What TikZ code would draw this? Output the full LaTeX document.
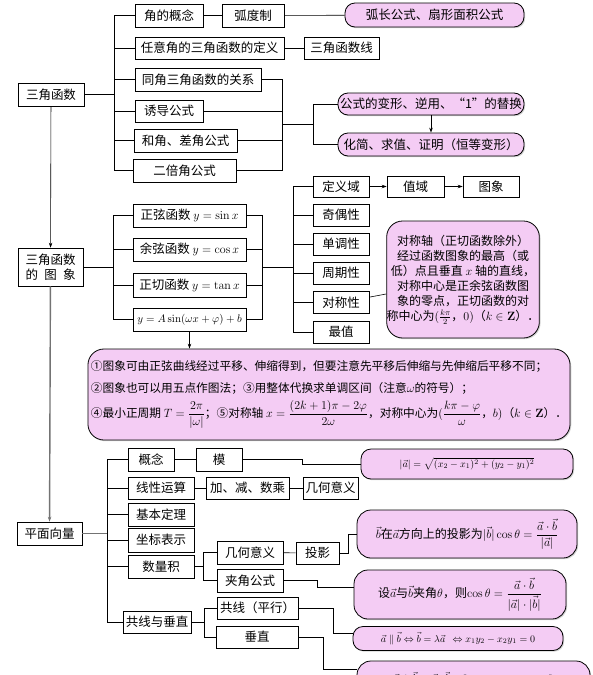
\documentclass[tikz,border=0pt]{standalone}
\usepackage{amsmath, amssymb}
\usepackage[no-math]{fontspec}
\setmainfont{Noto Sans CJK SC}
\usepackage{xcolor}
\usepackage{tikz}
\usetikzlibrary{arrows.meta, shadows}

\definecolor{pinkfill}{RGB}{244,204,244}

\begin{document}
\begin{tikzpicture}[x=1pt, y=-1pt, line width=0.6pt,
	box/.style={draw, inner sep=0pt, minimum height=23pt, font=\fontsize{12.5}{15}\selectfont},
	pill/.style={draw, fill=pinkfill, line width=0.8pt, rounded corners=10pt, inner sep=0pt, minimum height=23pt,
		drop shadow={shadow xshift=1.2pt, shadow yshift=-1.2pt, fill=black!35}, font=\fontsize{12.5}{15}\selectfont},
	mathpill/.style={pill, font=\fontsize{10}{12}\selectfont},
	arr/.style={-{Stealth[length=5pt, width=3.5pt]}},
	grayline/.style={draw=black!55, line width=1.4pt}]
		\useasboundingbox (0,0) rectangle (593,675);
		
		% Nodes: trig functions
		\node[box, minimum width=66pt] (sj) at (51,94.5) {三角函数};
		\node[box, minimum width=68pt] (jdgn) at (169,15.5) {角的概念};
		\node[box, minimum width=62pt] (hdz) at (253,15.5) {弧度制};
		\node[pill, minimum width=179pt, minimum height=24pt] (hcgs) at (434.5,15) {弧长公式、扇形面积公式};
		\node[box, minimum width=149pt, minimum height=22pt] (rysj) at (209.5,48) {任意角的三角函数的定义};
		\node[box, minimum width=75pt, minimum height=22pt] (sjhsx) at (341.5,48) {三角函数线};
		\node[box, minimum width=126pt] (tjgx) at (198,79.5) {同角三角函数的关系};
		\node[box, minimum width=68pt, minimum height=22pt] (ydgs) at (169,111) {诱导公式};
		\node[box, minimum width=103pt] (hjgs) at (185.5,140.5) {和角、差角公式};
		\node[box, minimum width=103pt] (ebjgs) at (184.5,170.5) {二倍角公式};
		\node[pill, minimum width=186pt, minimum height=22pt] (gsbx) at (431,104) {公式的变形、逆用、“1”的替换};
		\node[pill, minimum width=186pt] (hjqz) at (431,144.5) {化简、求值、证明（恒等变形）};
		
		% Nodes: graphs
		\node[box, minimum width=65pt, minimum height=38pt, align=center] (txt) at (50.5,267) {三角函数\\的\hspace{0.5em}图\hspace{0.5em}象};
		\node[box, minimum width=113pt] (sinf) at (189.5,215.5) {正弦函数 $y=\sin x$};
		\node[box, minimum width=113pt] (cosf) at (189.5,249.5) {余弦函数 $y=\cos x$};
		\node[box, minimum width=113pt, minimum height=24pt] (tanf) at (189.5,285) {正切函数 $y=\tan x$};
		\node[box, minimum width=113pt, font=\fontsize{11}{13}\selectfont] (asinf) at (189.5,319.5) {$y=A\sin(\omega x+\varphi)+b$};
		\node[box, minimum width=56pt, minimum height=21pt] (dyy) at (341,186.5) {定义域};
		\node[box, minimum width=57pt, minimum height=21pt] (zy) at (415.5,186.5) {值域};
		\node[box, minimum width=56pt, minimum height=21pt] (tx) at (491,186.5) {图象};
		\node[box, minimum width=56pt, minimum height=22pt] (jox) at (341,215) {奇偶性};
		\node[box, minimum width=56pt, minimum height=22pt] (ddx) at (341,244) {单调性};
		\node[box, minimum width=56pt, minimum height=22pt] (zqx) at (341,273) {周期性};
		\node[box, minimum width=56pt, minimum height=22pt] (dcx) at (341,302.5) {对称性};
		\node[box, minimum width=56pt, minimum height=22pt] (zz) at (341,332) {最值};
		\node[pill, rounded corners=16pt, minimum width=150pt, minimum height=117pt, align=center,
			font=\fontsize{12}{15}\selectfont] (dcsm) at (463,279.5) {对称轴（正切函数除外）\\经过函数图象的最高（或\\低）点且垂直 $x$ 轴的直线，\\对称中心是正余弦函数图\\象的零点，正切函数的对\\称中心为$(\frac{k\pi}{2}$，$0)$（$k\in\mathbf{Z}$）．};
		\node[pill, rounded corners=16pt, minimum width=468pt, minimum height=91pt, align=left, inner xsep=3pt,
			font=\fontsize{11.7}{22}\selectfont] (tuxiang) at (329,394.5) {①图象可由正弦曲线经过平移、伸缩得到，但要注意先平移后伸缩与先伸缩后平移不同；\\②图象也可以用五点作图法；③用整体代换求单调区间（注意$\omega$的符号）；\\[3pt]④最小正周期 $T=\dfrac{2\pi}{|\omega|}$；⑤对称轴 $x=\dfrac{(2k+1)\pi-2\varphi}{2\omega}$，对称中心为$(\dfrac{k\pi-\varphi}{\omega}$，$b)$（$k\in\mathbf{Z}$）．};
		
		% Nodes: plane vectors
		\node[box, minimum width=65pt] (pmxl) at (49.5,533.5) {平面向量};
		\node[box, minimum width=46pt] (gn) at (151,459.5) {概念};
		\node[box, minimum width=46pt] (mo) at (219,459.5) {模};
		\node[mathpill, minimum width=212pt, minimum height=30pt] (mpill) at (467,464) {$|\vec a|=\sqrt{(x_2-x_1)^2+(y_2-y_1)^2}$};
		\node[box, minimum width=66pt, minimum height=22pt] (xxys) at (161,488) {线性运算};
		\node[box, minimum width=83pt, minimum height=22pt] (jjsc) at (247.5,488) {加、减、数乘};
		\node[box, minimum width=55pt, minimum height=22pt] (jhyya) at (330.5,488) {几何意义};
		\node[box, minimum width=66pt] (jbdl) at (161,514.5) {基本定理};
		\node[box, minimum width=66pt, minimum height=24pt] (zbbs) at (161,540) {坐标表示};
		\node[box, minimum width=66pt] (slj) at (161,566.5) {数量积};
		\node[box, minimum width=66pt] (jhyyb) at (250,552.5) {几何意义};
		\node[box, minimum width=66pt] (jjgs) at (250,580.5) {夹角公式};
		\node[box, minimum width=43pt, minimum height=22pt] (ty) at (317.5,553) {投影};
		\node[mathpill, rounded corners=14pt, minimum width=220pt, minimum height=48pt] (typill) at (467,534) {\fontsize{12}{15}\selectfont$\vec b$在$\vec a$方向上的投影为$|\vec b|\cos\theta=\dfrac{\vec a\cdot\vec b}{|\vec a|}$};
		\node[mathpill, rounded corners=14pt, minimum width=212pt, minimum height=49pt] (jjpill) at (460,594.5) {\fontsize{12}{15}\selectfont 设$\vec a$与$\vec b$夹角$\theta$，则$\cos\theta=\dfrac{\vec a\cdot\vec b}{|\vec a|\cdot|\vec b|}$};
		\node[box, minimum width=68pt, minimum height=22pt] (gxcz) at (157,622) {共线与垂直};
		\node[box, minimum width=81pt, minimum height=22pt] (gx) at (257.5,608) {共线（平行）};
		\node[box, minimum width=82pt, minimum height=22pt] (cz) at (257,637) {垂直};
		\node[mathpill, minimum width=210pt, minimum height=24pt] (pxpill) at (458,638.5) {$\vec a\parallel\vec b\Leftrightarrow\vec b=\lambda\vec a\ \ \Leftrightarrow x_1y_2-x_2y_1=0$};
		\node[mathpill, rounded corners=14pt, minimum width=233pt, minimum height=34pt] (czpill) at (473.5,678) {$\vec a\perp\vec b\Leftrightarrow\vec a\cdot\vec b=0\Leftrightarrow x_1x_2+y_1y_2=0$};
		
		% Edges: trig functions
		\draw (sj.east) -- (114,94.5) coordinate (b1);
		\foreach \n in {jdgn, rysj, tjgx, ydgs, hjgs, ebjgs}
			\draw (b1) |- (\n.west);
		\draw (jdgn) -- (hdz);
		\draw (hdz) -- (hcgs);
		\draw (rysj) -- (sjhsx);
		\coordinate (c1) at (282,124.5);
		\foreach \n in {tjgx, ydgs, hjgs, ebjgs}
			\draw (\n.east) -| (c1);
		\draw (c1) -- (313,124.5) coordinate (c2);
		\draw (c2) |- (gsbx.west);
		\draw (c2) |- (hjqz.west);
		\draw[arr] (gsbx) -- (hjqz);
		
		% Edges: graphs
		\draw[arr] (sj) -- (txt);
		\draw (txt.east) -- (113,267) coordinate (b2);
		\foreach \n in {sinf, cosf, tanf, asinf}
			\draw (b2) |- (\n.west);
		\coordinate (c3) at (262,267);
		\foreach \n in {sinf, cosf, tanf, asinf}
			\draw (\n.east) -| (c3);
		\draw (c3) -- (293,267) coordinate (b3);
		\foreach \n in {dyy, jox, ddx, zqx, dcx, zz}
			\draw (b3) |- (\n.west);
		\draw[arr] (dyy) -- (zy);
		\draw[arr] (zy) -- (tx);
		\draw (dcx) -- (dcsm);
		\draw[arr] (asinf.south) -- (asinf.south |- tuxiang.north);
		
		% Edges: plane vectors
		\draw[grayline, arr] (txt) -- (pmxl);
		\draw[grayline] (pmxl.east) -- (107,533.5) coordinate (b4);
		\foreach \n in {gn, xxys, jbdl, zbbs, slj, gxcz}
			\draw (b4) |- (\n.west);
		\draw (gn) -- (mo);
		\draw (mo.east) -- (302,459.5) |- (mpill.west);
		\draw (xxys) -- (jjsc);
		\draw (jjsc) -- (jhyya);
		\draw (slj.east) -- (203,566.5) coordinate (b5);
		\draw (b5) |- (jhyyb.west);
		\draw (b5) |- (jjgs.west);
		\draw (jhyyb) -- (ty);
		\draw (ty.east) -- (348,553) |- (typill.west);
		\draw (jjgs.east) -- (317,580.5) |- ([yshift=7pt]jjpill.west);
		\draw (gxcz.east) -- (204,622) coordinate (b6);
		\draw (b6) |- (gx.west);
		\draw (b6) |- (cz.west);
		\draw (gx.east) -- (333,608) |- ([yshift=5pt]pxpill.west);
		\draw (cz.east) -- (323,637) |- ([yshift=9pt]czpill.west);
	\end{tikzpicture}
\end{document}
